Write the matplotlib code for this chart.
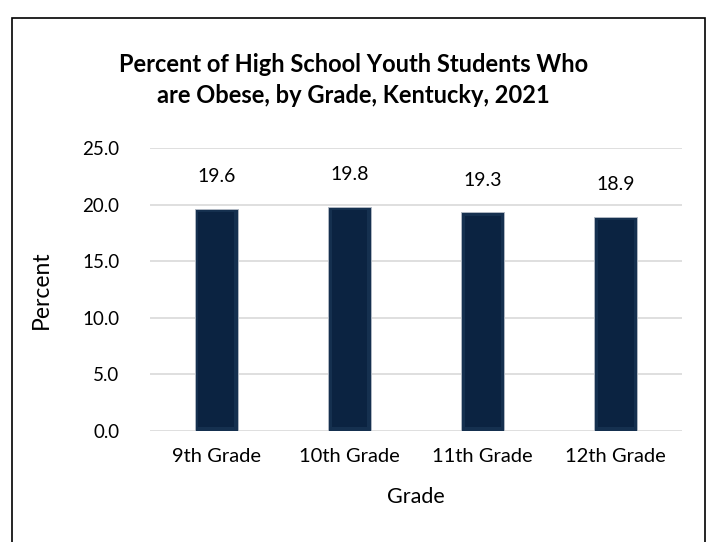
import matplotlib.pyplot as plt
from matplotlib.patches import Rectangle

grades = ['9th Grade', '10th Grade', '11th Grade', '12th Grade']
percent = [19.6, 19.8, 19.3, 18.9]
yticks = [0, 5, 10, 15, 20, 25]

plt.rcParams['font.family'] = ['Lato', 'DejaVu Sans']

fig = plt.figure(figsize=(7.07, 5.42), dpi=100)
ax = fig.add_axes([0.212, 0.205, 0.753, 0.522])

# outer chart border
fig.patches.append(Rectangle((0.017, -0.02), 0.98, 0.987, transform=fig.transFigure,
                             fill=False, edgecolor='black', linewidth=1.2))

x = range(len(grades))
bars = ax.bar(x, percent, width=0.32, color='#15304f', edgecolor='#b0b8c2', linewidth=0.7, zorder=3)
# darker face inside the bevel
ax.bar(x, [v - 0.6 for v in percent], bottom=0.3, width=0.27, color='#0b2341', zorder=3)

for b, v in zip(bars, percent):
    ax.text(b.get_x() + b.get_width() / 2, v + 2.1, f'{v:.1f}', ha='center', va='bottom', fontsize=14)

ax.set_ylim(0, 25)
ax.set_xlim(-0.5, 3.5)
ax.set_yticks(yticks)
ax.set_yticklabels([f'{t:.1f}' for t in yticks], fontsize=13.5)
ax.set_xticks(list(x))
ax.set_xticklabels(grades, fontsize=14.5)
ax.tick_params(length=0, pad=12)
ax.tick_params(axis='y', pad=22)
ax.grid(axis='y', color='#d9d9d9', linewidth=1.2, zorder=0)
for s in ax.spines.values():
    s.set_visible(False)

ax.set_ylabel('Percent', fontsize=16.5, labelpad=22)
ax.set_xlabel('Grade', fontsize=15.5, labelpad=16)

fig.text(0.5, 0.852, 'Percent of High School Youth Students Who\nare Obese, by Grade, Kentucky, 2021',
         ha='center', va='center', fontsize=17, fontweight='bold', linespacing=1.45)

plt.savefig('out.png', dpi=100)
